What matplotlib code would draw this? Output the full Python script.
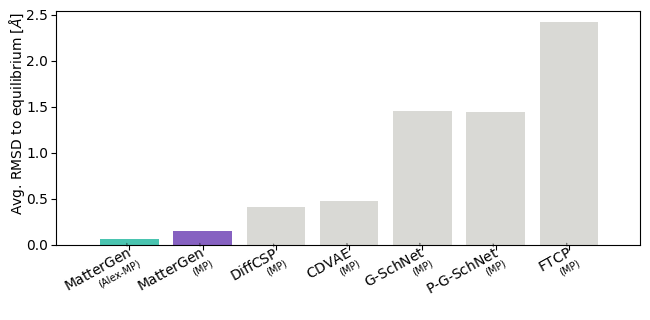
import matplotlib
matplotlib.use("Agg")
import matplotlib.pyplot as plt
import matplotlib.transforms as mtransforms

names = ["MatterGen", "MatterGen", "DiffCSP", "CDVAE", "G-SchNet", "P-G-SchNet", "FTCP"]
datasets = ["Alex-MP", "MP", "MP", "MP", "MP", "MP", "MP"]
rmsd = [0.065, 0.152, 0.41, 0.48, 1.457, 1.446, 2.42]
colors = ["#4ac4b0", "#8661c1", "#d9d9d5", "#d9d9d5", "#d9d9d5", "#d9d9d5", "#d9d9d5"]

fig = plt.figure(figsize=(6.5, 3.2), dpi=100)
ax = fig.add_axes([56/650, 1-245/320, (640-56)/650, (245-11)/320])
x = list(range(len(names)))
ax.bar(x, rmsd, width=0.8, color=colors)
ax.set_xlim(-1.0, 6.97)
ax.set_ylim(0, 2.543)
ax.set_xticks(x)
ax.set_xticklabels([])
ax.set_yticks([0, 0.5, 1.0, 1.5, 2.0, 2.5])
ax.tick_params(labelsize=10)
ax.tick_params(axis="y", pad=2)
ax.set_ylabel(r"Avg. RMSD to equilibrium [$Å$]", fontsize=10)
ax.yaxis.set_label_coords(-0.05, 0.564)

rot = 29
base = ax.get_xaxis_transform()
for xi, n, d in zip(x, names, datasets):
    t1 = base + mtransforms.ScaledTranslation(6.7/100, -10/100, fig.dpi_scale_trans)
    ax.text(xi, 0, n + r"$^{'}$", transform=t1, rotation=rot, rotation_mode="anchor",
            ha="right", va="baseline", fontsize=10, clip_on=False)
    t2 = base + mtransforms.ScaledTranslation(11.5/100, -20/100, fig.dpi_scale_trans)
    ax.text(xi, 0, "(%s)" % d, transform=t2, rotation=rot, rotation_mode="anchor",
            ha="right", va="baseline", fontsize=7, clip_on=False)

fig.savefig("out.png", dpi=100)
